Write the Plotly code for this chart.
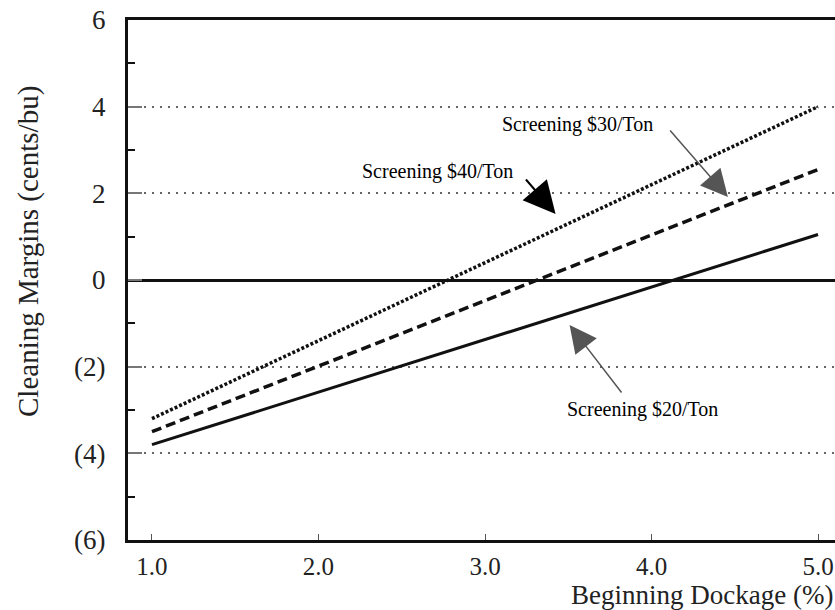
import plotly.graph_objects as go

# ---- data ----
dockage = [1.0, 5.0]
screen_40 = [-3.2, 4.0]
screen_30 = [-3.5, 2.55]
screen_20 = [-3.8, 1.05]

y_tickvals = [-6, -4, -2, 0, 2, 4, 6]
y_ticktext = ["(6)", "(4)", "(2)", "0", "2", "4", "6"]
x_tickvals = [1.0, 2.0, 3.0, 4.0, 5.0]
x_ticktext = ["1.0", "2.0", "3.0", "4.0", "5.0"]

label_40 = "Screening $40/Ton"
label_30 = "Screening $30/Ton"
label_20 = "Screening $20/Ton"

FONT = "Liberation Serif, Times New Roman, serif"

fig = go.Figure()
fig.add_trace(go.Scatter(x=dockage, y=screen_40, mode="lines",
                         line=dict(color="#111", width=3.5, dash="3px,2px"),
                         showlegend=False, hoverinfo="skip"))
fig.add_trace(go.Scatter(x=dockage, y=screen_30, mode="lines",
                         line=dict(color="#111", width=3.5, dash="10px,5px"),
                         showlegend=False, hoverinfo="skip"))
fig.add_trace(go.Scatter(x=dockage, y=screen_20, mode="lines",
                         line=dict(color="#111", width=3),
                         showlegend=False, hoverinfo="skip"))

annos = [
    dict(text=label_30, x=3.556, y=3.60, ax=4.104, ay=3.485, tipx=4.459, tipy=1.915,
         color="#555", head_w=1.5, size=3.6),
    dict(text=label_40, x=2.714, y=2.515, ax=3.238, ay=2.354, tipx=3.424, tipy=1.523,
         color="#000", head_w=2, size=3.2),
    dict(text=label_20, x=3.947, y=-2.977, ax=3.827, ay=-2.63, tipx=3.508, tipy=-1.04,
         color="#555", head_w=1.5, size=3.6),
]
annotations = []
for a in annos:
    annotations.append(dict(x=a["x"], y=a["y"], xref="x", yref="y", text=a["text"],
                            showarrow=False, font=dict(family=FONT, size=20, color="#000")))
    annotations.append(dict(x=a["tipx"], y=a["tipy"], ax=a["ax"], ay=a["ay"],
                            xref="x", yref="y", axref="x", ayref="y", text="",
                            showarrow=True, arrowhead=2, arrowsize=a["size"],
                            arrowwidth=a["head_w"], arrowcolor=a["color"]))

annotations.append(dict(text="Cleaning Margins (cents/bu)", xref="paper", yref="paper",
                        x=0, y=0.5, xanchor="center", yanchor="middle", xshift=-100, yshift=28,
                        textangle=-90, showarrow=False,
                        font=dict(family=FONT, size=29, color="#222")))
annotations.append(dict(text="Beginning Dockage (%)", xref="paper", yref="paper",
                        x=1, y=0, xanchor="right", yanchor="middle", yshift=-55,
                        showarrow=False, font=dict(family=FONT, size=27, color="#222")))

fig.update_layout(
    width=835, height=610,
    margin=dict(l=128, r=0, t=20, b=70),
    plot_bgcolor="white", paper_bgcolor="white",
    annotations=annotations,
    xaxis=dict(range=[0.856, 5.102], tickvals=x_tickvals, ticktext=x_ticktext,
               ticks="inside", ticklen=6, tickwidth=1, tickcolor="#555",
               showline=True, linewidth=3, linecolor="#111", mirror=True,
               showgrid=False, zeroline=False, ticklabelstandoff=2,
               tickfont=dict(family=FONT, size=25, color="#222")),
    yaxis=dict(range=[-6, 6], tickvals=y_tickvals, ticktext=y_ticktext,
               ticks="inside", ticklen=14, tickwidth=2, tickcolor="#777",
               minor=dict(tick0=-5, dtick=2, ticks="inside", ticklen=7,
                          tickwidth=1.5, tickcolor="#111", showgrid=False),
               showline=True, linewidth=3, linecolor="#111", mirror=False,
               showgrid=True, gridcolor="#666", gridwidth=1.5, griddash="2px,6px",
               zeroline=True, zerolinecolor="#111", zerolinewidth=3,
               ticklabelstandoff=14,
               tickfont=dict(family=FONT, size=27, color="#222")),
)

fig.write_html("out.html", config={"displayModeBar": False},
               post_script="document.body.style.margin='0';")
